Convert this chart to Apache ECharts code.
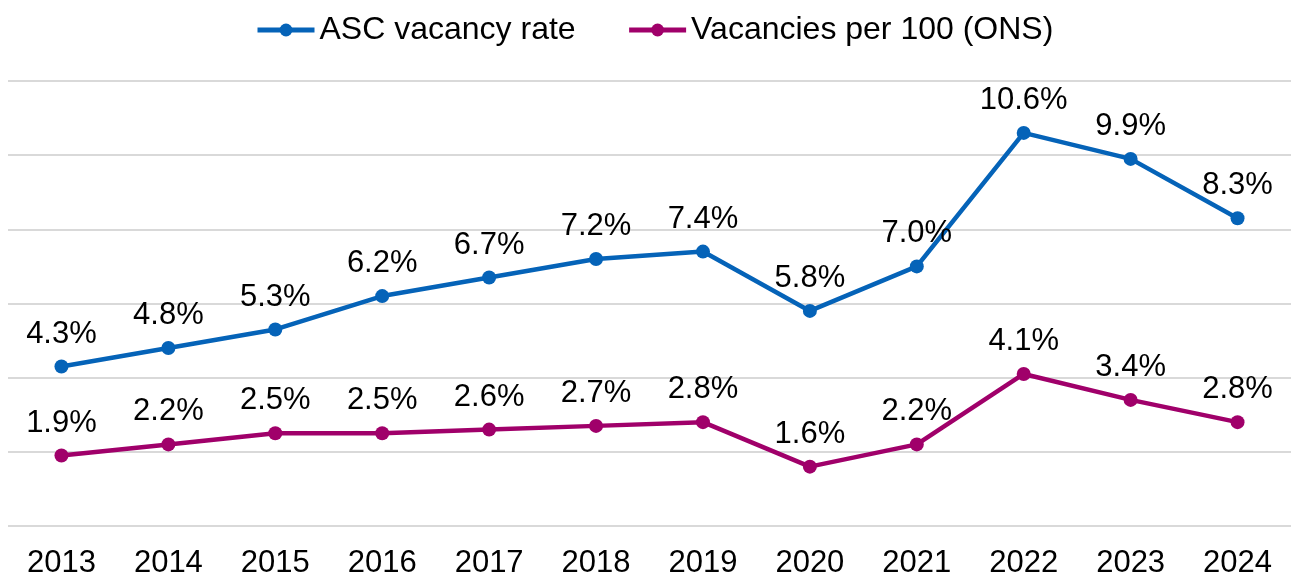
<!DOCTYPE html>
<html lang="en">
<head>
    <meta charset="UTF-8">
    <title>ASC vacancies</title>
    <script type="text/javascript" src="https://cdn.jsdelivr.net/npm/echarts@6/dist/echarts.min.js"></script>
    <style>
        html, body { margin: 0; padding: 0; background: #fff; }
    </style>
</head>
<body>
    <div id="container" style="width:1291px;height:579px"></div>

    <script type="text/javascript">
        var years = ['2013', '2014', '2015', '2016', '2017', '2018', '2019', '2020', '2021', '2022', '2023', '2024'];
        var ascRate = [4.3, 4.8, 5.3, 6.2, 6.7, 7.2, 7.4, 5.8, 7.0, 10.6, 9.9, 8.3];
        var onsPer100 = [1.9, 2.2, 2.5, 2.5, 2.6, 2.7, 2.8, 1.6, 2.2, 4.1, 3.4, 2.8];

        var dom = document.getElementById("container");
        var myChart = echarts.init(dom);
        var font = '"Liberation Sans", Arial, sans-serif';

        function pct(p) {
            return p.value.toFixed(1) + '%';
        }

        // same label look for both lines
        var lbl = {
            show: true,
            position: 'top',
            distance: 10,
            fontSize: 31,
            color: '#000',
            fontFamily: font,
            formatter: pct
        };

        var option = {
            animation: false,
            textStyle: { fontFamily: font },
            legend: {
                top: 9,
                left: 250,
                itemWidth: 57,
                itemHeight: 16,
                itemGap: 51,
                lineStyle: { width: 5 },
                textStyle: { fontSize: 32, color: '#000', fontFamily: font },
                data: ['ASC vacancy rate', 'Vacancies per 100 (ONS)']
            },
            grid: {
                left: 8,
                top: 81,
                width: 1284,
                height: 445
            },
            xAxis: {
                type: 'category',
                data: years,
                axisLine: { show: false },
                axisTick: { show: false },
                axisLabel: { fontSize: 31, color: '#000', margin: 22, fontFamily: font }
            },
            yAxis: {
                type: 'value',
                min: 0,
                max: 12,
                interval: 2,
                axisLabel: { show: false },
                splitLine: { lineStyle: { color: '#d9d9d9', width: 2 } }
            },
            series: [
                {
                    name: 'ASC vacancy rate',
                    type: 'line',
                    data: ascRate,
                    color: '#0563b8',
                    symbol: 'circle',
                    symbolSize: 14,
                    lineStyle: { width: 4.5 },
                    label: lbl
                },
                {
                    name: 'Vacancies per 100 (ONS)',
                    type: 'line',
                    data: onsPer100,
                    color: '#a0006a',
                    symbol: 'circle',
                    symbolSize: 14,
                    lineStyle: { width: 4.5 },
                    label: lbl
                }
            ]
        };

        myChart.setOption(option, true);
    </script>
</body>
</html>
